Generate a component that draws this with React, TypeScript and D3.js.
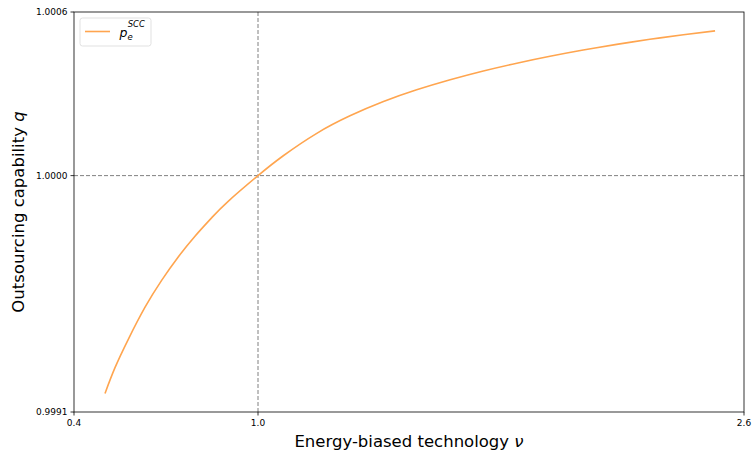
import React from "react";
import * as d3 from "d3";

const nu = [0.4975, 0.530, 0.574, 0.629, 0.684, 0.738, 0.793, 0.848, 0.902, 1.0, 1.083, 1.193, 1.302, 1.412, 1.521, 1.631, 1.740, 1.850, 1.959, 2.068, 2.178, 2.287, 2.397, 2.501];
const q = [0.9991708, 0.9992679, 0.9993768, 0.9994990, 0.9996022, 0.9996905, 0.9997694, 0.9998398, 0.9999022, 1.0, 1.0000757, 1.0001610, 1.0002276, 1.0002820, 1.0003266, 1.0003649, 1.0003984, 1.0004281, 1.0004543, 1.0004781, 1.0004996, 1.0005190, 1.0005364, 1.0005512];
const xDomain = [0.3957, 2.596];
const yDomain = [0.9991, 1.000623];
const xTicks = [0.3957, 1.0, 2.596];
const xTickLabels = ["0.4", "1.0", "2.6"];
const yTicks = [0.9991, 1.0, 1.000623];
const yTickLabels = ["0.9991", "1.0000", "1.0006"];

const W = 753, H = 452;
const L = 74, R = 744, T = 12, B = 412;

export default function App() {
  const x = d3.scaleLinear().domain(xDomain).range([L, R]);
  const y = d3.scaleLinear().domain(yDomain).range([B, T]);
  const pts = nu.map((v, i) => [v, q[i]] as [number, number]);
  const line = d3.line<[number, number]>().x(d => x(d[0])).y(d => y(d[1])).curve(d3.curveNatural);
  const font = "DejaVu Sans, sans-serif";
  return (
    <svg width={W} height={H} style={{ position: "absolute", left: 0, top: 0, background: "#fff" }} fontFamily={font}>
      <line x1={x(1)} x2={x(1)} y1={T} y2={B} stroke="#808080" strokeWidth={1} strokeDasharray="4,2" />
      <line x1={L} x2={R} y1={y(1)} y2={y(1)} stroke="#808080" strokeWidth={1} strokeDasharray="4,2" />
      <path d={line(pts) || ""} fill="none" stroke="#ffa54f" strokeWidth={1.6} />
      <rect x={L} y={T} width={R - L} height={B - T} fill="none" stroke="#000" strokeWidth={0.8} />
      {xTicks.map((t, i) => (
        <g key={"x" + i}>
          <line x1={x(t)} x2={x(t)} y1={B} y2={B + 3.5} stroke="#000" strokeWidth={0.8} />
          <text x={x(t)} y={B + 14} fontSize={9} textAnchor="middle" fill="#000">{xTickLabels[i]}</text>
        </g>
      ))}
      {yTicks.map((t, i) => (
        <g key={"y" + i}>
          <line x1={L - 3.5} x2={L} y1={y(t)} y2={y(t)} stroke="#000" strokeWidth={0.8} />
          <text x={L - 6.5} y={y(t) + 3.3} fontSize={9} textAnchor="end" fill="#000">{yTickLabels[i]}</text>
        </g>
      ))}
      <text x={409} y={447} fontSize={16.5} textAnchor="middle" fill="#000">
        Energy-biased technology <tspan fontStyle="italic">ν</tspan>
      </text>
      <text transform={`translate(24, ${(T + B) / 2}) rotate(-90)`} fontSize={16.5} textAnchor="middle" fill="#000">
        Outsourcing capability <tspan fontStyle="italic">q</tspan>
      </text>
      <g>
        <rect x={80} y={18} width={71} height={28} rx={2.5} fill="#fff" stroke="#d9d9d9" strokeWidth={0.8} />
        <line x1={85} x2={110} y1={31.5} y2={31.5} stroke="#ffa54f" strokeWidth={1.6} />
        <text x={119.5} y={37} fontSize={12.5} fontStyle="italic" fill="#000">
          p
          <tspan fontSize={8.5} dy={3}>e</tspan>
          <tspan fontSize={8.5} dx={-5} dy={-13.5}>SCC</tspan>
        </text>
      </g>
    </svg>
  );
}
